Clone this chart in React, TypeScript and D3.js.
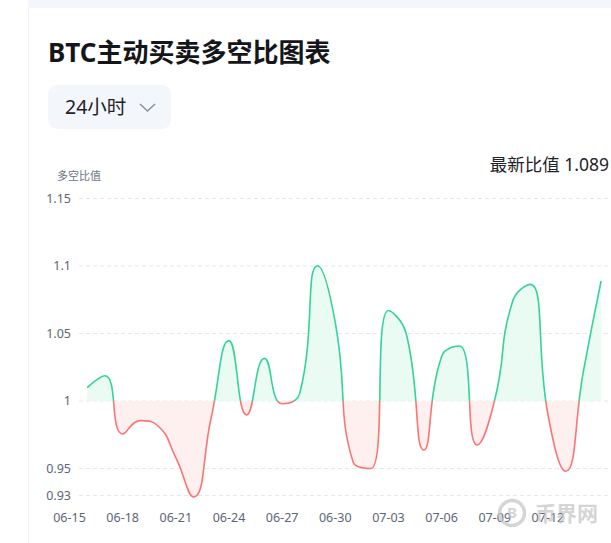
import React from "react";
import * as d3 from "d3";

const dates: string[] = [
  "2024-06-16","2024-06-17","2024-06-18","2024-06-19","2024-06-20","2024-06-21","2024-06-22",
  "2024-06-23","2024-06-24","2024-06-25","2024-06-26","2024-06-27","2024-06-28","2024-06-29",
  "2024-06-30","2024-07-01","2024-07-02","2024-07-03","2024-07-04","2024-07-05","2024-07-06",
  "2024-07-07","2024-07-08","2024-07-09","2024-07-10","2024-07-11","2024-07-12","2024-07-13",
  "2024-07-14","2024-07-15",
];
const ratios: number[] = [
  1.0099, 1.0187, 0.9756, 0.9855, 0.9815, 0.958, 0.929,
  0.988, 1.0447, 0.9896, 1.0316, 0.998, 1.006, 1.1002,
  1.058, 0.955, 0.95, 1.067, 1.05, 0.9637, 1.033,
  1.0407, 0.9674, 1.001, 1.0736, 1.0864, 0.99, 0.948,
  1.022, 1.089,
];
const yTicks: number[] = [0.93, 0.95, 1, 1.05, 1.1, 1.15];
const xTickLabels: string[] = ["06-15","06-18","06-21","06-24","06-27","06-30","07-03","07-06","07-09","07-12"];
const title = "BTC主动买卖多空比图表";
const periodLabel = "24小时";
const latestLabel = "最新比值";
const yAxisName = "多空比值";
const baseline = 1;

const FONT = "'Noto Sans', 'Noto Sans CJK SC', sans-serif";
const GREEN = "#34d399";
const RED = "#fb7575";
const GREEN_FILL = "#eafbf3";
const RED_FILL = "#fff0f0";

function smoothPath(pts: [number, number][], smooth = 0.5): string {
  const n = pts.length;
  let d = "";
  let prevX = 0, prevY = 0, cpx0 = 0, cpy0 = 0;
  for (let i = 0; i < n; i++) {
    const [x, y] = pts[i];
    if (i === 0) {
      d += `M${x},${y}`;
      cpx0 = x; cpy0 = y;
    } else {
      let cpx1: number, cpy1: number, nextCpx0 = x, nextCpy0 = y;
      if (i === n - 1) {
        cpx1 = x; cpy1 = y;
      } else {
        const [nextX, nextY] = pts[i + 1];
        let vx = nextX - prevX, vy = nextY - prevY;
        const dx0 = x - prevX, dx1 = nextX - x, dy0 = y - prevY, dy1 = nextY - y;
        const lenPrev = Math.sqrt(dx0 * dx0 + dy0 * dy0);
        const lenNext = Math.sqrt(dx1 * dx1 + dy1 * dy1);
        const ratio = lenNext / (lenNext + lenPrev);
        nextCpx0 = x + vx * smooth * ratio;
        nextCpy0 = y + vy * smooth * ratio;
        nextCpx0 = Math.min(nextCpx0, Math.max(nextX, x));
        nextCpy0 = Math.min(nextCpy0, Math.max(nextY, y));
        nextCpx0 = Math.max(nextCpx0, Math.min(nextX, x));
        nextCpy0 = Math.max(nextCpy0, Math.min(nextY, y));
        vx = nextCpx0 - x; vy = nextCpy0 - y;
        cpx1 = x - (vx * lenPrev) / lenNext;
        cpy1 = y - (vy * lenPrev) / lenNext;
        cpx1 = Math.min(cpx1, Math.max(prevX, x));
        cpy1 = Math.min(cpy1, Math.max(prevY, y));
        cpx1 = Math.max(cpx1, Math.min(prevX, x));
        cpy1 = Math.max(cpy1, Math.min(prevY, y));
        vx = x - cpx1; vy = y - cpy1;
        nextCpx0 = x + (vx * lenNext) / lenPrev;
        nextCpy0 = y + (vy * lenNext) / lenPrev;
      }
      d += `C${cpx0},${cpy0},${cpx1},${cpy1},${x},${y}`;
      cpx0 = nextCpx0; cpy0 = nextCpy0;
    }
    prevX = x; prevY = y;
  }
  return d;
}

export default function App() {
  const W = 611, H = 543;
  const parse = d3.timeParse("%Y-%m-%d");
  const dts = dates.map((s) => parse(s) as Date);
  const x = d3.scaleTime()
    .domain([parse("2024-06-15") as Date, parse("2024-07-15") as Date])
    .range([69.5, 601.1]);
  const y = d3.scaleLinear().domain([0.93, 1.15]).range([495.5, 198.5]);
  const pts: [number, number][] = ratios.map((v, i) => [x(dts[i]), y(v)]);
  const linePath = smoothPath(pts);
  const y1 = y(baseline);
  const areaPath = `${linePath}L${pts[pts.length - 1][0]},${y1}L${pts[0][0]},${y1}Z`;
  const xTicks = xTickLabels.map((_, i) => d3.timeDay.offset(parse("2024-06-15") as Date, i * 3));
  const fmt = d3.timeFormat("%m-%d");

  return (
    <svg width={W} height={H} style={{ position: "absolute", left: 0, top: 0, background: "#fff" }} fontFamily={FONT}>
      <defs>
        <clipPath id="above"><rect x={0} y={0} width={W} height={y1} /></clipPath>
        <clipPath id="below"><rect x={0} y={y1} width={W} height={H - y1} /></clipPath>
      </defs>
      <rect x={28} y={0} width={W - 28} height={8} fill="#f3f6fa" />
      <line x1={28.5} x2={28.5} y1={8} y2={H} stroke="#eef0f3" />

      <text x={48} y={62} fontSize={26} fontWeight={700} fill="#14161a">{title}</text>

      <rect x={48} y={85} width={123} height={44} rx={9} fill="#f3f6fb" />
      <text x={65} y={114} fontSize={19.5} fill="#1f2329">{periodLabel}</text>
      <path d="M140,104 L147.5,111 L155,104" fill="none" stroke="#8a919f" strokeWidth={1.6} />

      <text x={609} y={171} fontSize={17.5} fill="#1f2329" textAnchor="end">{`${latestLabel} ${d3.format(".3f")(ratios[ratios.length - 1])}`}</text>
      <text x={57} y={180} fontSize={11} fill="#6b7385">{yAxisName}</text>

      {yTicks.map((t) => (
        <g key={t}>
          <line x1={79} x2={W} y1={y(t)} y2={y(t)} stroke="#e6e8ec" strokeDasharray="4,3" />
          <text x={71} y={y(t)} dy="0.35em" fontSize={12.5} fill="#5d6577" textAnchor="end">{String(t)}</text>
        </g>
      ))}
      {xTicks.map((t, i) => (
        <text key={i} x={x(t)} y={522} fontSize={12.5} fill="#5d6577" textAnchor="middle">{fmt(t)}</text>
      ))}

      <path d={areaPath} fill={GREEN_FILL} clipPath="url(#above)" />
      <path d={areaPath} fill={RED_FILL} clipPath="url(#below)" />
      <path d={linePath} fill="none" stroke={GREEN} strokeWidth={1.6} clipPath="url(#above)" />
      <path d={linePath} fill="none" stroke={RED} strokeWidth={1.6} clipPath="url(#below)" />

      <g opacity={0.7}>
        <circle cx={512} cy={513} r={12.5} fill="none" stroke="#c4c4c4" strokeWidth={3.5} />
        <text x={512} y={513} dy="0.36em" fontSize={15} fontWeight={700} fill="#c4c4c4" textAnchor="middle">B</text>
        <text x={535} y={513} dy="0.36em" fontSize={21} fontWeight={700} fill="#c4c4c4">币界网</text>
      </g>
    </svg>
  );
}
